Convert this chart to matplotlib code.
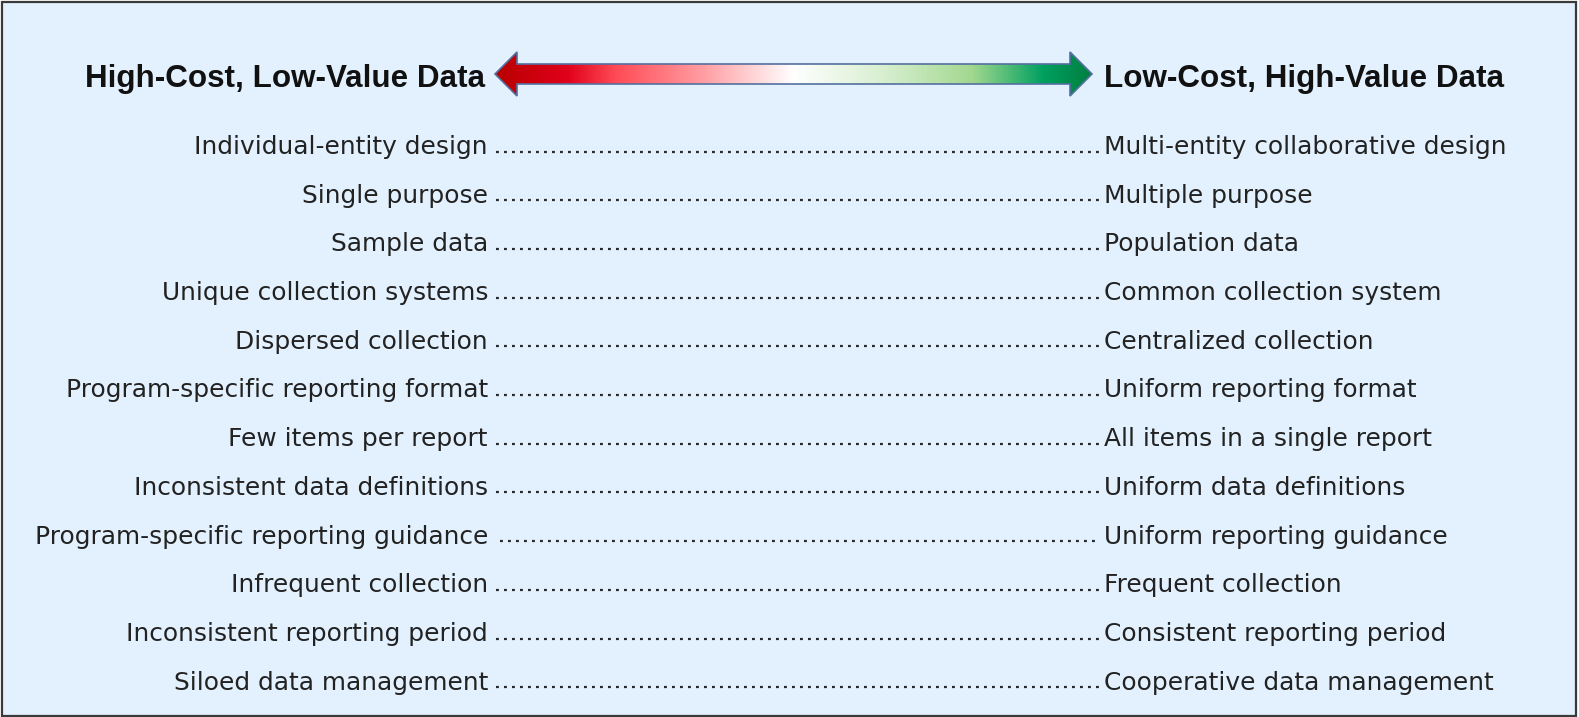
import numpy as np
import matplotlib.pyplot as plt
from matplotlib.patches import Polygon, Rectangle
from matplotlib.colors import LinearSegmentedColormap

# header labels
left_title = "High-Cost, Low-Value Data"
right_title = "Low-Cost, High-Value Data"

# left (high cost) items and right (low cost) items, row by row
left_items = [
    "Individual-entity design",
    "Single purpose",
    "Sample data",
    "Unique collection systems",
    "Dispersed collection",
    "Program-specific reporting format",
    "Few items per report",
    "Inconsistent data definitions",
    "Program-specific reporting guidance",
    "Infrequent collection",
    "Inconsistent reporting period",
    "Siloed data management",
]
right_items = [
    "Multi-entity collaborative design",
    "Multiple purpose",
    "Population data",
    "Common collection system",
    "Centralized collection",
    "Uniform reporting format",
    "All items in a single report",
    "Uniform data definitions",
    "Uniform reporting guidance",
    "Frequent collection",
    "Consistent reporting period",
    "Cooperative data management",
]

W, H = 1579, 717
fig = plt.figure(figsize=(W / 100, H / 100), dpi=100)
ax = fig.add_axes([0, 0, 1, 1])
ax.set_xlim(0, W)
ax.set_ylim(H, 0)
ax.axis('off')

bg = '#E3F1FE'
ax.add_patch(Rectangle((1.5, 1.5), W - 5, H - 3, facecolor=bg,
                       edgecolor='#3a3a3a', linewidth=1.6, zorder=0))

body_font = 'DejaVu Sans'
head_font = 'Liberation Sans'
left_x, right_x = 488, 1104
dot_start, dot_end = 496, 1100
y0, dy = 154, 48.7

for i, (l, r) in enumerate(zip(left_items, right_items)):
    y = y0 + i * dy
    ax.text(left_x, y, l, ha='right', va='baseline', fontsize=17.9,
            family=body_font, color='#222222')
    ax.text(right_x, y, r, ha='left', va='baseline', fontsize=17.9,
            family=body_font, color='#222222')
    start = dot_start + (4 if i == 8 else 0)
    ax.plot([start, dot_end], [y - 2.5, y - 2.5], color='#2a2a2a',
            linestyle=(0, (1.3, 2.3)), linewidth=1.6)

ax.text(485, 87.5, left_title, ha='right', va='baseline', fontsize=22.6,
        family=head_font, fontweight='bold', color='#111111')
ax.text(1104, 87.5, right_title, ha='left', va='baseline', fontsize=22.6,
        family=head_font, fontweight='bold', color='#111111')

# double-headed gradient arrow
ax_l, ax_r, ay = 495, 1092, 74
shaft, head, head_len = 10, 22, 22
verts = [
    (ax_l, ay), (ax_l + head_len, ay - head), (ax_l + head_len, ay - shaft),
    (ax_r - head_len, ay - shaft), (ax_r - head_len, ay - head), (ax_r, ay),
    (ax_r - head_len, ay + head), (ax_r - head_len, ay + shaft),
    (ax_l + head_len, ay + shaft), (ax_l + head_len, ay + head),
]
arrow = Polygon(verts, closed=True, facecolor='none', edgecolor='#5470a0',
                linewidth=1.2, zorder=3)
ax.add_patch(arrow)
cmap = LinearSegmentedColormap.from_list('rg', [
    (0.0, '#b80000'), (0.12, '#e0001a'), (0.2, '#ff4a55'),
    (0.35, '#ff9fa3'), (0.5, '#ffffff'), (0.65, '#d8efd0'),
    (0.8, '#a2d890'), (0.92, '#00a060'), (1.0, '#007f40'),
])
grad = np.linspace(0, 1, 512).reshape(1, -1)
im = ax.imshow(grad, cmap=cmap, aspect='auto',
               extent=(ax_l, ax_r, ay + head, ay - head), zorder=2)
im.set_clip_path(arrow)
ax.set_xlim(0, W)
ax.set_ylim(H, 0)

fig.savefig('out.png', dpi=100, facecolor='white')
